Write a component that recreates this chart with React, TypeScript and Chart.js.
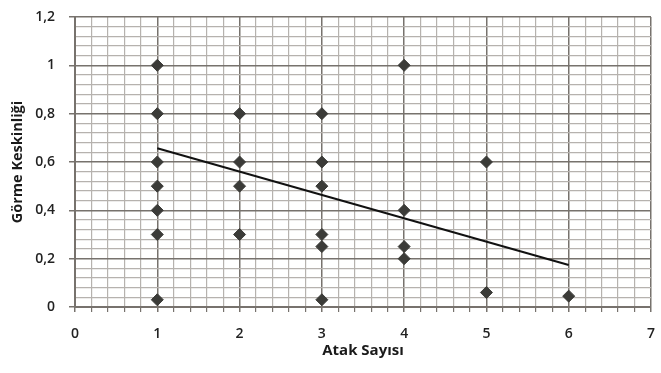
import React, { useEffect, useRef } from "react";
import { Chart, registerables } from "chart.js";

Chart.register(...registerables);

const attackCounts = [1, 1, 1, 1, 1, 1, 1, 2, 2, 2, 2, 3, 3, 3, 3, 3, 3, 4, 4, 4, 4, 5, 5, 6];
const visualAcuity = [1.0, 0.8, 0.6, 0.5, 0.4, 0.3, 0.03, 0.8, 0.6, 0.5, 0.3, 0.8, 0.6, 0.5, 0.3, 0.25, 0.03, 1.0, 0.4, 0.25, 0.2, 0.6, 0.06, 0.045];
const trendX = [1, 6];
const trendY = [0.657, 0.174];
const xTitle = "Atak Sayısı";
const yTitle = "Görme Keskinliği";

const FONT = "'Open Sans', Lato, sans-serif";
const MAJOR = "#77726d";
const MINOR = "#b6b2ae";

const isMult = (v: number, step: number) => Math.abs(v / step - Math.round(v / step)) < 1e-6;

export default function App() {
  const ref = useRef<HTMLCanvasElement | null>(null);
  useEffect(() => {
    document.body.style.margin = "0";
    const canvas = ref.current!;
    const chart = new Chart(canvas, {
      type: "scatter",
      data: {
        datasets: [
          {
            type: "scatter",
            data: attackCounts.map((x, i) => ({ x, y: visualAcuity[i] })),
            pointStyle: "rectRot",
            pointRadius: 6,
            backgroundColor: "#3b3b38",
            borderColor: "#3b3b38",
            borderWidth: 1,
            order: 1,
          },
          {
            type: "line",
            data: trendX.map((x, i) => ({ x, y: trendY[i] })),
            borderColor: "#111111",
            borderWidth: 2,
            pointRadius: 0,
            fill: false,
            order: 2,
          } as any,
        ],
      },
      options: {
        responsive: false,
        animation: false,
        devicePixelRatio: 1,
        layout: { padding: { top: 17, right: 10, left: 0, bottom: 0 } },
        plugins: { legend: { display: false }, tooltip: { enabled: false } },
        scales: {
          x: {
            type: "linear",
            min: 0,
            max: 7,
            afterFit: (s: any) => { s.height = 66; s.paddingLeft = 0; s.paddingRight = 0; },
            border: { display: true, color: MAJOR, width: 2 },
            grid: {
              color: (c: any) => (isMult(c.tick.value, 1) ? MAJOR : MINOR),
              lineWidth: (c: any) => (isMult(c.tick.value, 1) ? 1.5 : 1.2),
              tickColor: MAJOR,
              tickLength: 5,
              drawTicks: true,
            },
            ticks: {
              stepSize: 0.2,
              autoSkip: false,
              maxRotation: 0,
              padding: 14,
              color: "#222222",
              font: { family: FONT, size: 14, weight: 600 },
              callback: (v: any) => (isMult(Number(v), 1) ? String(Math.round(Number(v))) : ""),
            },
            title: {
              display: true,
              text: xTitle,
              color: "#1a1a1a",
              font: { family: FONT, size: 15, weight: "bold" },
              padding: { top: 0, bottom: 13 },
            },
          },
          y: {
            type: "linear",
            min: 0,
            max: 1.2,
            afterFit: (s: any) => { s.width = 75; s.paddingTop = 0; s.paddingBottom = 0; },
            border: { display: true, color: MAJOR, width: 2 },
            grid: {
              color: (c: any) => (isMult(c.tick.value, 0.2) ? MAJOR : MINOR),
              lineWidth: (c: any) => (isMult(c.tick.value, 0.2) ? 1.5 : 1.2),
              tickColor: (c: any) => (isMult(c.tick.value, 0.2) ? MAJOR : "rgba(0,0,0,0)"),
              tickLength: 6,
              drawTicks: true,
            },
            ticks: {
              stepSize: 0.04,
              autoSkip: false,
              padding: 14,
              color: "#222222",
              font: { family: FONT, size: 14, weight: 600 },
              callback: (v: any) => {
                const n = Number(v);
                if (!isMult(n, 0.2)) return "";
                const r = Math.round(n * 10) / 10;
                return String(r).replace(".", ",");
              },
            },
            title: {
              display: true,
              text: yTitle,
              color: "#1a1a1a",
              font: { family: FONT, size: 14.5, weight: "bold" },
              padding: { top: 9, bottom: 0 },
            },
          },
        },
      },
    });
    return () => chart.destroy();
  }, []);
  return (
    <div style={{ width: 661, height: 373, background: "#fff" }}>
      <canvas ref={ref} width={661} height={373} />
    </div>
  );
}
